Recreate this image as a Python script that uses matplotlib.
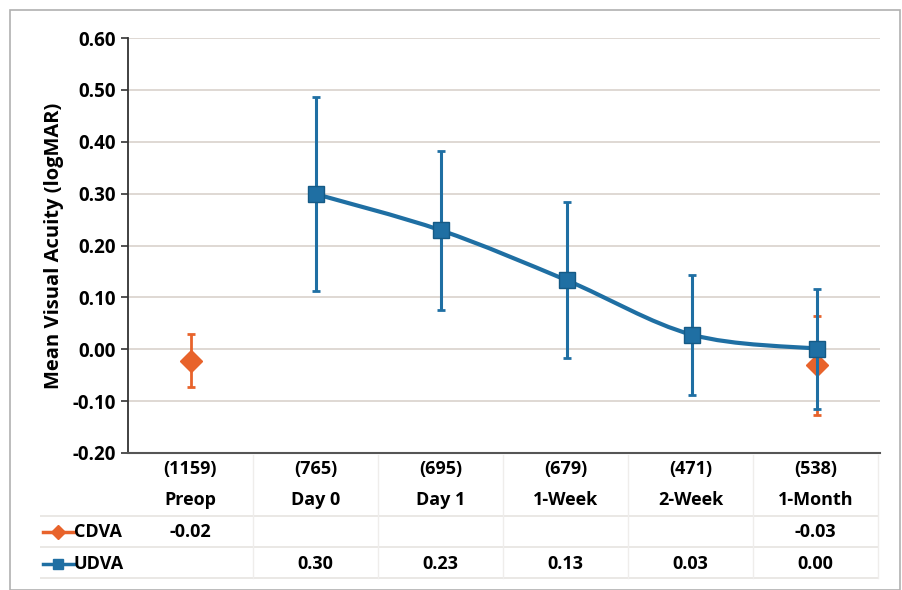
import numpy as np
import matplotlib.pyplot as plt
from matplotlib.path import Path
from matplotlib.patches import PathPatch, Rectangle

plt.rcParams['font.family'] = ['Open Sans', 'DejaVu Sans']
plt.rcParams['font.weight'] = 'bold'

# data
visits = ["Preop", "Day 0", "Day 1", "1-Week", "2-Week", "1-Month"]
counts = ["(1159)", "(765)", "(695)", "(679)", "(471)", "(538)"]

cdva_x = [0, 5]
cdva_mean = [-0.022, -0.031]
cdva_err = [0.051, 0.095]
cdva_lbl = ["-0.02", "", "", "", "", "-0.03"]

udva_x = [1, 2, 3, 4, 5]
udva_mean = [0.299, 0.229, 0.133, 0.028, 0.001]
udva_err = [0.187, 0.154, 0.150, 0.116, 0.116]
udva_lbl = ["", "0.30", "0.23", "0.13", "0.03", "0.00"]

blue = "#1f6fa3"
orange = "#e8632b"
grid_c = "#dcd6d0"
fs = 13

W, H = 902, 590
fig = plt.figure(figsize=(W / 100, H / 100), dpi=100)

# outer frame
fig.patches.append(Rectangle((10 / W, 0), 890 / W, 580 / H, transform=fig.transFigure,
                             fill=False, edgecolor="#b0b0b0", lw=1.2))

ax = fig.add_axes([128 / W, 1 - 453 / H, 752 / W, 415 / H])
ax.set_xlim(-0.5, 5.5)
ax.set_ylim(-0.2, 0.6)
ax.set_yticks(np.arange(-0.2, 0.61, 0.1))
ax.set_yticklabels([f"{v:.2f}" for v in np.arange(-0.2, 0.61, 0.1)], fontsize=13.5, fontweight='bold')
ax.set_xticks([])
ax.yaxis.grid(True, color=grid_c, lw=1.3)
ax.set_axisbelow(True)
for s in ["top", "right"]:
    ax.spines[s].set_visible(False)
ax.spines["left"].set_color("#333333")
ax.spines["bottom"].set_color("#555555")
ax.spines["left"].set_linewidth(1.3)
ax.spines["bottom"].set_linewidth(1.5)
ax.tick_params(axis='y', length=5, width=1.2, color="#333333", pad=4)
ax.set_ylabel("Mean Visual Acuity (logMAR)", fontsize=14.5, fontweight='bold', labelpad=6)

# smooth udva line (catmull-rom style bezier through the points)
px = np.array(udva_x, float)
py = np.array(udva_mean, float)
verts = [(px[0], py[0])]
codes = [Path.MOVETO]
for i in range(len(px) - 1):
    p0 = (px[i - 1], py[i - 1]) if i > 0 else (px[i], py[i])
    p3 = (px[i + 2], py[i + 2]) if i + 2 < len(px) else (px[i + 1], py[i + 1])
    c1 = (px[i] + (px[i + 1] - p0[0]) / 6, py[i] + (py[i + 1] - p0[1]) / 6)
    c2 = (px[i + 1] - (p3[0] - px[i]) / 6, py[i + 1] - (p3[1] - py[i]) / 6)
    verts += [c1, c2, (px[i + 1], py[i + 1])]
    codes += [Path.CURVE4] * 3
ax.add_patch(PathPatch(Path(verts, codes), fill=False, edgecolor=blue, lw=3, zorder=3))

ax.errorbar(cdva_x, cdva_mean, yerr=cdva_err, fmt='D', color=orange, ms=11,
            elinewidth=2, capsize=3, capthick=2, zorder=4)
ax.errorbar(udva_x, udva_mean, yerr=udva_err, fmt='s', color=blue, ms=11,
            mec="#155a85", elinewidth=2.2, capsize=3, capthick=2, zorder=5)

# data table under the axis
tb = fig.add_axes([40 / W, 1 - 582 / H, 845 / W, 129 / H])
x0 = -0.5 - 88 / 125
tb.set_xlim(x0, -0.5 + 845 / 125 + x0 + 0.5)
tb.set_ylim(582, 453)
tb.axis("off")
tline = "#e8e6e3"
for yy in [516, 547, 578]:
    tb.plot([x0, 5.5], [yy, yy], color=tline, lw=1.3)
for xx in np.arange(0.5, 5.6, 1.0):
    tb.plot([xx, xx], [455, 578], color="#efedeb", lw=1.0)
for i in range(len(visits)):
    tb.text(i, 469, counts[i], ha='center', va='center', fontsize=fs, fontweight='bold')
    tb.text(i, 500, visits[i], ha='center', va='center', fontsize=fs, fontweight='bold')
    tb.text(i, 532, cdva_lbl[i], ha='center', va='center', fontsize=fs, fontweight='bold')
    tb.text(i, 564, udva_lbl[i], ha='center', va='center', fontsize=fs, fontweight='bold')

# legend keys in the table
tb.plot([x0 + 0.02, x0 + 0.27], [532, 532], color=orange, lw=2.5)
tb.plot([x0 + 0.145], [532], 'D', color=orange, ms=7)
tb.plot([x0 + 0.02, x0 + 0.27], [564, 564], color=blue, lw=2.5)
tb.plot([x0 + 0.145], [564], 's', color=blue, ms=7)
tb.text(x0 + 0.27, 532, "CDVA", ha='left', va='center', fontsize=fs, fontweight='bold')
tb.text(x0 + 0.27, 564, "UDVA", ha='left', va='center', fontsize=fs, fontweight='bold')

fig.savefig("out.png", dpi=100)
